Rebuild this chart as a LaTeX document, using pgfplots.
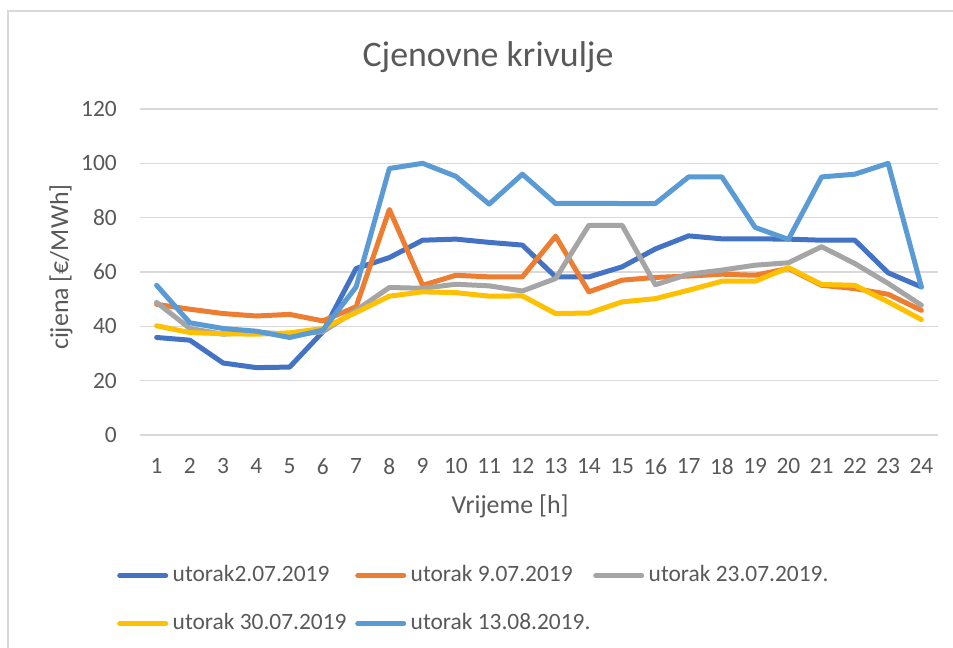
\documentclass[border=0pt]{standalone}
\usepackage{pgfplots}
\usepackage{pgfplotstable}
\pgfplotsset{compat=1.18}
\usepackage{fontspec}
\setmainfont{Carlito}
\definecolor{sA}{HTML}{4472C4}
\definecolor{sB}{HTML}{ED7D31}
\definecolor{sC}{HTML}{A5A5A5}
\definecolor{sD}{HTML}{FFC000}
\definecolor{sE}{HTML}{5B9BD5}
\definecolor{txt}{HTML}{595959}
\definecolor{gridc}{HTML}{D9D9D9}
\hfuzz=200pt
\pgfplotstableread{
h s1 s2 s3 s4 s5
1 35.9 48.1 48.8 40.2 55.1
2 34.9 46.3 39.2 37.7 41.3
3 26.5 44.7 37.1 37.3 39.2
4 24.8 43.8 37.9 37.1 38.2
5 25.0 44.4 37.0 37.6 35.9
6 38.0 42.0 38.0 39.2 38.6
7 61.3 47.2 45.9 45.1 54.5
8 65.3 83.0 54.3 51.1 98.1
9 71.7 55.1 54.0 52.7 100.0
10 72.1 58.8 55.5 52.4 95.2
11 70.9 58.2 54.9 51.1 85.0
12 69.9 58.2 53.0 51.2 96.0
13 58.2 73.2 57.6 44.7 85.2
14 58.2 52.7 77.2 44.9 85.3
15 61.9 57.0 77.2 49.0 85.2
16 68.5 58.0 55.3 50.2 85.2
17 73.3 58.5 59.2 53.3 95.0
18 72.2 59.2 60.7 56.6 95.0
19 72.2 58.8 62.5 56.6 76.4
20 72.1 61.3 63.4 61.6 72.0
21 71.7 55.1 69.3 55.4 95.0
22 71.7 53.9 63.1 55.1 96.0
23 59.7 51.8 55.8 49.0 100.0
24 54.5 45.9 47.8 42.5 54.5
}\data
\begin{document}
\begin{tikzpicture}
\useasboundingbox (0,0) rectangle (953bp,648bp);
\fill[white] (0,0) rectangle (953bp,648bp);
\draw[color=gridc, line width=1.5bp] (8bp,-5bp) -- (8bp,637bp) -- (960bp,637bp);
\node[font=\fontsize{36}{40}\selectfont, text=txt, anchor=base] at (488bp,581bp) {Cjenovne krivulje};
\begin{axis}[
  at={(140bp,213bp)}, anchor=south west,
  width=798bp, height=326bp, scale only axis,
  xmin=0.5, xmax=24.5, ymin=0, ymax=120,
  xtick={1,...,24}, ytick={0,20,...,120},
  axis line style={draw=none}, major tick style={draw=none},
  ymajorgrids, grid style={color=gridc, line width=1.5bp},
  /pgf/number format/assume math mode=true,
  ticklabel style={font=\fontsize{23.5}{25}\selectfont, text=txt, inner sep=0pt},
  yticklabel style={xshift=-23bp},
  xticklabel style={yshift=-23.5bp},
  xlabel={Vrijeme [h]}, ylabel={cijena [€/MWh]},
  every axis x label/.style={at={(axis description cs:0.4637,-0.2178)}, anchor=center, font=\fontsize{26}{28}\selectfont, text=txt},
  every axis y label/.style={at={(axis description cs:-0.099,0.515)}, rotate=90, anchor=center, font=\fontsize{26}{28}\selectfont, text=txt},
  legend columns=3,
  legend cell align=left,
  legend image code/.code={\draw[line width=5bp, line cap=round] (2.5bp,0bp) -- (48.5bp,0bp);},
  legend style={at={(axis description cs:-0.0288,-0.3987)}, anchor=north west,
    draw=none, fill=none, inner sep=0pt, column sep=0pt, row sep=27bp,
    font=\fontsize{23.5}{25}\selectfont, text=txt,
    nodes={inner xsep=4.5bp, inner ysep=0pt, text width=178bp, align=flush left, text height=16bp, text depth=5bp}},
  every axis plot/.append style={line width=5bp, line join=round, line cap=round, no markers},
]
\addplot[color=sA] table[x=h, y=s1] {\data};
\addlegendentry{\mbox{utorak2.07.2019}}
\addplot[color=sB] table[x=h, y=s2] {\data};
\addlegendentry{\mbox{utorak 9.07.2019}}
\addplot[color=sC] table[x=h, y=s3] {\data};
\addlegendentry{\mbox{utorak 23.07.2019.}}
\addplot[color=sD] table[x=h, y=s4] {\data};
\addlegendentry{\mbox{utorak 30.07.2019}}
\addplot[color=sE] table[x=h, y=s5] {\data};
\addlegendentry{\mbox{utorak 13.08.2019.}}
\end{axis}
\end{tikzpicture}
\end{document}
